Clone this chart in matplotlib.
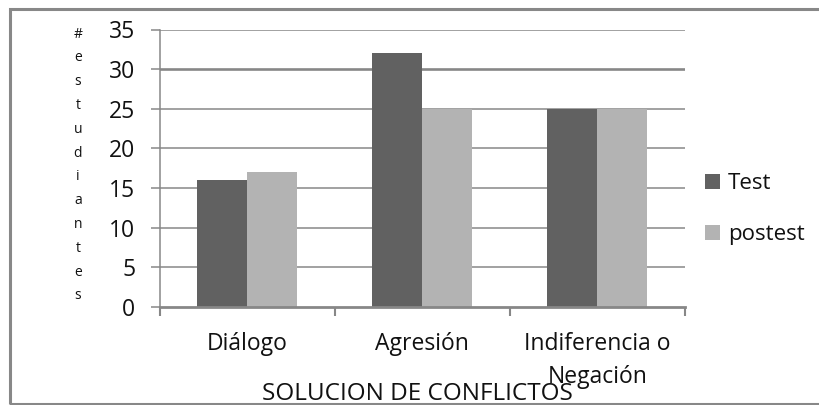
import matplotlib
matplotlib.use("Agg")
import matplotlib.pyplot as plt
from matplotlib.patches import Rectangle
import numpy as np

categories = ["Diálogo", "Agresión", "Indiferencia o\nNegación"]
test_values = [16, 32, 25]
postest_values = [17, 25, 25]
series_names = ["Test", "postest"]
yticks = [0, 5, 10, 15, 20, 25, 30, 35]
ylabel_text = "#estudiantes"
xlabel_text = "SOLUCION DE CONFLICTOS"

plt.rcParams['font.family'] = ['Open Sans', 'DejaVu Sans']

W, H = 819, 405
fig = plt.figure(figsize=(W / 100, H / 100), dpi=100)
fig.patch.set_facecolor("white")

# outer chart border
border = "#888888"
fig.add_artist(Rectangle((10 / W, 1 - 403.5 / H), 1.2, (403.5 - 8.5) / H,
                         transform=fig.transFigure, fill=False,
                         edgecolor=border, linewidth=2.2, clip_on=False))

ax = fig.add_axes([159.5 / W, 1 - 307 / H, (685 - 159.5) / W, (307 - 29.5) / H])

dark = "#616161"
light = "#b3b3b3"
grid_c = "#878787"
txt_c = "#111111"

x = np.arange(len(categories))
bw = 50 / 175
ax.bar(x - bw / 2, test_values, bw, color=dark, label=series_names[0], zorder=3)
ax.bar(x + bw / 2, postest_values, bw, color=light, label=series_names[1], zorder=3)

ax.set_xlim(-0.5, len(categories) - 0.5)
ax.set_ylim(0, 35)
ax.set_yticks(yticks)
for t in yticks[1:]:
    ax.axhline(t, color=grid_c, linewidth=1.9 if t == 30 else 1.1, zorder=1)

for s in ["top", "right"]:
    ax.spines[s].set_visible(False)
ax.spines["left"].set_color(grid_c)
ax.spines["left"].set_linewidth(1.1)
ax.spines["bottom"].set_color(grid_c)
ax.spines["bottom"].set_linewidth(2.0)
ax.spines["bottom"].set_zorder(4)

ax.tick_params(axis="y", direction="out", length=6.5, width=1.1, color=grid_c,
               labelsize=16.5, pad=11, labelcolor=txt_c)
ax.set_xticks(np.arange(-0.5, len(categories), 1.0))
ax.set_xticklabels([])
ax.tick_params(axis="x", which="major", direction="out", length=6.5, width=1.5, color=grid_c)
ax.set_xticks(x, minor=True)
ax.set_xticklabels(categories, minor=True, fontsize=16.5, color=txt_c,
                   linespacing=1.5, verticalalignment="top")
ax.tick_params(axis="x", which="minor", length=0, pad=18)

fig.text(417 / W, 1 - 394 / H, xlabel_text, fontsize=17.5, color=txt_c,
         ha="center", va="center")

# stacked vertical y label
fig.text(78 / W, 1 - 165 / H, "\n".join(ylabel_text), fontsize=10,
         ha="center", va="center", linespacing=1.8, color=txt_c)

leg = ax.legend(loc="center left", bbox_to_anchor=(1.022, 0.353), frameon=False,
                fontsize=16, handlelength=0.65, handleheight=0.65,
                handletextpad=0.35, labelspacing=1.35, borderaxespad=0)
for t in leg.get_texts():
    t.set_color(txt_c)

fig.savefig("out.png", dpi=100, facecolor="white")
